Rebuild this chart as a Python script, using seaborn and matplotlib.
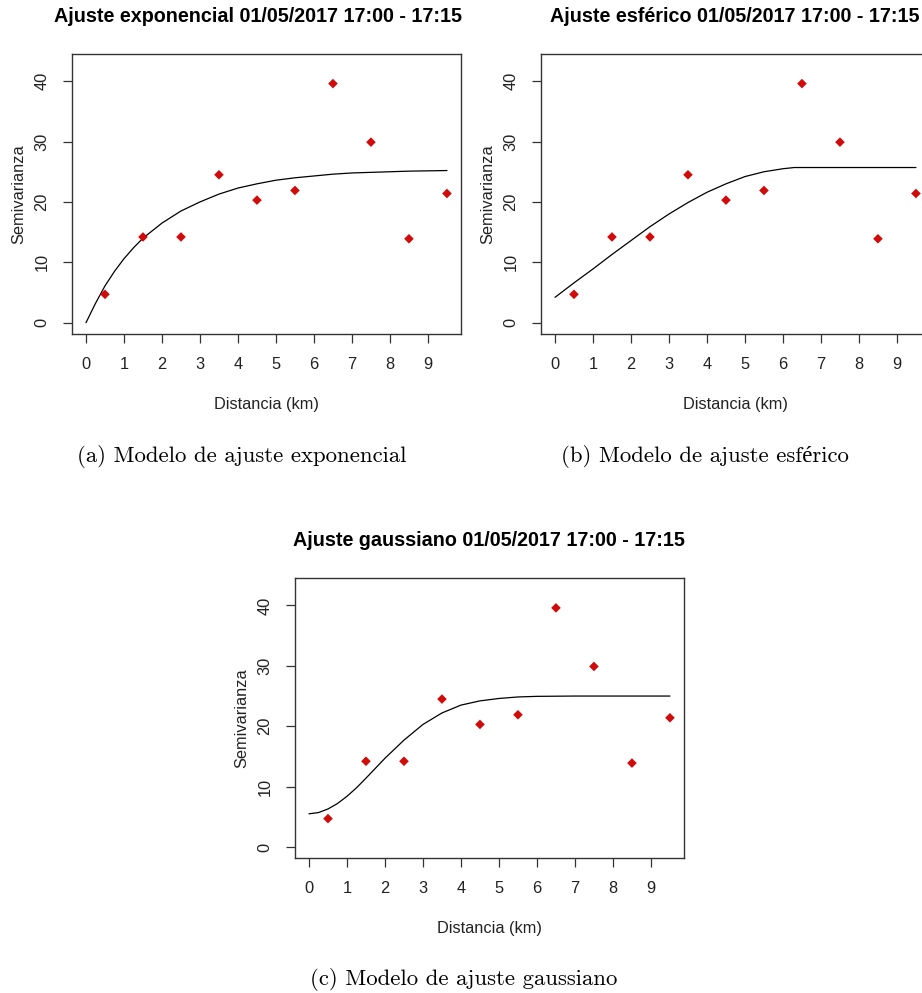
import matplotlib
matplotlib.use("Agg")
import matplotlib.pyplot as plt
import numpy as np
import pandas as pd
import seaborn as sns

# Empirical semivariogram: lag centres (km) and semivariance
lag_km = [0.5, 1.5, 2.5, 3.5, 4.5, 5.5, 6.5, 7.5, 8.5, 9.5]
semivariance = [4.7, 14.2, 14.2, 24.5, 20.3, 21.9, 39.6, 29.9, 13.9, 21.4]

# Fitted model curves (distance km, semivariance)
exp_x = [0, 0.25, 0.5, 0.75, 1, 1.25, 1.5, 2, 2.5, 3, 3.5, 4, 4.5, 5, 5.5, 6,
         6.5, 7, 7.5, 8, 8.5, 9, 9.5]
exp_y = [0, 3.2, 6.1, 8.5, 10.6, 12.4, 14.0, 16.5, 18.5, 20.0, 21.3, 22.3, 23.0,
         23.6, 24.0, 24.3, 24.6, 24.8, 24.9, 25.0, 25.1, 25.15, 25.2]

sph_x = [0, 0.5, 1, 1.5, 2, 2.5, 3, 3.5, 4, 4.5, 5, 5.5, 6, 6.3, 7, 8, 9, 9.5]
sph_y = [4.2, 6.6, 8.9, 11.3, 13.6, 15.9, 18.0, 19.9, 21.6, 23.0, 24.2, 25.0,
         25.5, 25.7, 25.7, 25.7, 25.7, 25.7]

gau_x = [0, 0.25, 0.5, 0.75, 1, 1.25, 1.5, 2, 2.5, 3, 3.5, 4, 4.5, 5, 5.5, 6,
         7, 8, 9, 9.5]
gau_y = [5.5, 5.7, 6.3, 7.2, 8.4, 9.8, 11.4, 14.7, 17.7, 20.3, 22.2, 23.5, 24.2,
         24.6, 24.85, 24.95, 25.0, 25.0, 25.0, 25.0]

titles = ["Ajuste exponencial 01/05/2017 17:00 - 17:15",
          "Ajuste esférico 01/05/2017 17:00 - 17:15",
          "Ajuste gaussiano 01/05/2017 17:00 - 17:15"]
captions = ["(a) Modelo de ajuste exponencial",
            "(b) Modelo de ajuste esférico",
            "(c) Modelo de ajuste gaussiano"]
x_ticks = list(range(10))
y_ticks = [0, 10, 20, 30, 40]

sns.set_theme(style="white")
plt.rcParams["font.family"] = ["Liberation Sans", "DejaVu Sans"]

W, H = 922, 993
fig = plt.figure(figsize=(W / 100, H / 100), dpi=100)

# axes boxes in pixels: left, top, width, height
boxes = [(72, 54, 389, 280), (541, 54, 389, 280), (295, 578.3, 389, 280)]
title_pos = [(258, 21.5), (735, 21.5), (489, 546)]
caption_pos = [(242, 462), (705, 462), (464, 985)]
curves = [(exp_x, exp_y), (sph_x, sph_y), (gau_x, gau_y)]

pts = pd.DataFrame({"dist": lag_km, "gamma": semivariance})
ink = "#222222"

for i, (l, t, w, h) in enumerate(boxes):
    ax = fig.add_axes([l / W, 1 - (t + h) / H, w / W, h / H])
    cx, cy = curves[i]
    model = pd.DataFrame({"dist": cx, "gamma": cy})
    sns.lineplot(data=model, x="dist", y="gamma", ax=ax, color="black",
                 linewidth=0.9, estimator=None, sort=False, zorder=2)
    sns.scatterplot(data=pts, x="dist", y="gamma", ax=ax, marker="D",
                    s=24, color="#d10a0a", edgecolor="none", linewidth=0,
                    zorder=3)
    ax.set_xlim(-0.368, 9.87)
    ax.set_ylim(-1.87, 44.5)
    ax.set_xticks(x_ticks)
    ax.set_yticks(y_ticks)
    ax.set_xticklabels([str(v) for v in x_ticks])
    ax.set_yticklabels([str(v) for v in y_ticks], rotation=90, va="center")
    ax.tick_params(axis="both", direction="out", length=6.5, width=0.9,
                   color="#333333", labelsize=11.8, labelcolor=ink,
                   bottom=True, left=True, pad=9.8)
    for sp in ax.spines.values():
        sp.set_visible(True)
        sp.set_color("#333333")
        sp.set_linewidth(1.0)
    ax.set_xlabel("Distancia (km)", fontsize=11.8, color=ink)
    ax.set_ylabel("Semivarianza", fontsize=11.8, color=ink)
    ax.xaxis.set_label_coords(0.5, -(404 - 334) / h)
    ax.xaxis.label.set_va("center")
    ax.yaxis.set_label_coords(-53 / w, 0.5)
    ax.yaxis.label.set_va("center")
    ax.set_facecolor("white")

    tx, ty = title_pos[i]
    fig.text(tx / W, 1 - ty / H, titles[i], ha="center", va="baseline",
             fontsize=14.2, fontweight="bold", color="black")
    px, py = caption_pos[i]
    fig.text(px / W, 1 - py / H, captions[i], ha="center", va="baseline",
             fontsize=16.4, color="black",
             family=["cmr10", "Liberation Serif", "DejaVu Serif"])

fig.savefig("out.png", dpi=100, facecolor="white")
